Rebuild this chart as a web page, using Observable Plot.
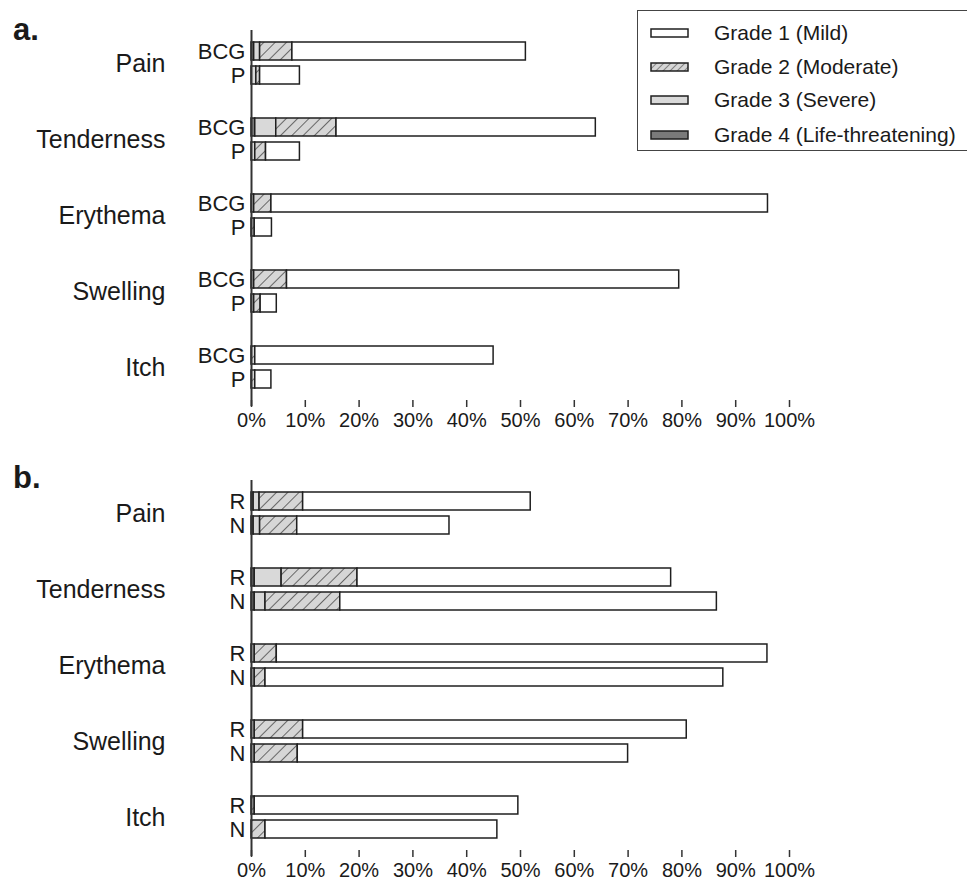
<!DOCTYPE html>
<html><head><meta charset="utf-8">
<script src="https://cdn.jsdelivr.net/npm/d3@7"></script>
<script src="https://cdn.jsdelivr.net/npm/@observablehq/plot@0.6"></script>
<style>
body{margin:0;background:#fff;font-family:"Liberation Sans",Arial,sans-serif;color:#1a1a1a;}
#wrap{position:relative;width:967px;height:888px;overflow:hidden;}
#wrap svg.plot{display:block;}
.plabel{position:absolute;left:13px;font-weight:bold;font-size:31px;line-height:1;}
#legend{position:absolute;left:637px;top:10px;width:340px;height:141px;border:1.5px solid #444;box-sizing:border-box;background:#fff;}
.lrow{position:absolute;left:12px;height:26px;display:flex;align-items:center;font-size:21px;white-space:nowrap;}
.lrow svg{margin-right:24px;}
</style>
</head><body>
<svg width="0" height="0" style="position:absolute">
  <defs>
    <pattern id="hatch" patternUnits="userSpaceOnUse" width="8" height="8" patternTransform="rotate(45)">
      <rect width="8" height="8" fill="#d6d6d6"></rect>
      <line x1="0" y1="0" x2="0" y2="8" stroke="#4a4a4a" stroke-width="1.6"></line>
    </pattern>
    <pattern id="hatchS" patternUnits="userSpaceOnUse" width="5" height="5" patternTransform="rotate(45)">
      <rect width="5" height="5" fill="#d6d6d6"></rect>
      <line x1="0" y1="0" x2="0" y2="5" stroke="#4a4a4a" stroke-width="1.2"></line>
    </pattern>
  </defs>
</svg>
<div id="wrap">
  <div id="pa"></div>
  <div id="pb"></div>
  <div class="plabel" style="top:14px">a.</div>
  <div class="plabel" style="top:462px">b.</div>
  <div id="legend"></div>
</div>
<script>
// ---- data ----
const symptoms = ["Pain", "Tenderness", "Erythema", "Swelling", "Itch"];
const gradeNames = ["Grade 1 (Mild)", "Grade 2 (Moderate)", "Grade 3 (Severe)", "Grade 4 (Life-threatening)"];
const gradeFills = ["#ffffff", "url(#hatch)", "#d9d9d9", "#7a7a7a"];
const legendFills = ["#ffffff", "url(#hatchS)", "#d9d9d9", "#7a7a7a"];
const xTicks = [0, 10, 20, 30, 40, 50, 60, 70, 80, 90, 100];

// Panel a: groups BCG, P ; each entry [BCG, P] per symptom (percent)
const groupsA = ["BCG", "P"];
const a_g4 = [[0.5, 0], [0.7, 0], [0, 0], [0, 0], [0, 0]];
const a_g3 = [[1.1, 0.9], [3.9, 0.7], [0.5, 0], [0.5, 0.5], [0, 0]];
const a_g2 = [[6.0, 0.7], [11.2, 2.0], [3.2, 0.6], [6.1, 1.2], [0.7, 0.7]];
const a_g1 = [[43.4, 7.4], [48.2, 6.3], [92.3, 3.2], [72.9, 3.0], [44.3, 3.0]];

// Panel b: groups R, N
const groupsB = ["R", "N"];
const b_g4 = [[0.4, 0.4], [0.6, 0.6], [0, 0], [0, 0], [0, 0]];
const b_g3 = [[1.1, 1.2], [5.0, 2.0], [0.6, 0.6], [0.6, 0.6], [0, 0]];
const b_g2 = [[8.1, 6.9], [14.1, 13.9], [4.1, 2.0], [9.0, 8.0], [0.6, 2.6]];
const b_g1 = [[42.3, 28.3], [58.3, 70.0], [91.2, 85.1], [71.3, 61.4], [49.0, 43.1]];

function buildRows(groups, g1, g2, g3, g4) {
  const rows = [];
  const byGrade = [[gradeNames[3], g4], [gradeNames[2], g3], [gradeNames[1], g2], [gradeNames[0], g1]];
  symptoms.forEach((s, i) => {
    groups.forEach((g, j) => {
      byGrade.forEach(([name, arr]) => {
        const v = arr[i][j];
        if (v > 0) rows.push({symptom: s, group: g, grade: name, value: v});
      });
    });
  });
  return rows;
}

function panel(rows, groups, marginTop, height, marginBottom) {
  const first = [symptoms[0]], middle = symptoms.slice(1, -1), last = [symptoms[symptoms.length - 1]];
  const axisRule = (data, insetTop, insetBottom) =>
    Plot.ruleX(data, {x: () => 0, fy: d => d, stroke: "#333", strokeWidth: 2, insetTop, insetBottom});
  return Plot.plot({
    width: 967, height, marginTop, marginBottom, marginLeft: 251, marginRight: 178,
    style: {fontFamily: "'Liberation Sans', Arial, sans-serif", color: "#1a1a1a", background: "transparent", overflow: "visible"},
    x: {domain: [0, 100], axis: null},
    y: {domain: groups, paddingInner: 0.25, paddingOuter: 0.5, axis: null},
    fy: {domain: symptoms, paddingInner: 0.1316, paddingOuter: 0, axis: null},
    color: {type: "ordinal", domain: gradeNames, range: gradeFills},
    marks: [
      Plot.barX(rows, {x: "value", y: "group", fy: "symptom", fill: "grade", stroke: "#1f1f1f", strokeWidth: 1.5}),
      axisRule(first, 0, -5),
      axisRule(middle, -5, -5),
      axisRule(last, -5, -6),
      Plot.axisY({anchor: "left", tickSize: 0, tickPadding: 6, fontSize: 22, label: null}),
      Plot.axisFy({anchor: "left", tickSize: 0, tickPadding: 86, fontSize: 25, label: null}),
      Plot.axisX({anchor: "bottom", ticks: xTicks, tickFormat: d => d + "%", tickSize: 7, tickPadding: 5, fontSize: 20, label: null, stroke: "#333", strokeWidth: 1.5})
    ]
  });
}

const rowsA = buildRows(groupsA, a_g1, a_g2, a_g3, a_g4);
const rowsB = buildRows(groupsB, b_g1, b_g2, b_g3, b_g4);
document.getElementById("pa").append(panel(rowsA, groupsA, 30, 440, 40));
document.getElementById("pb").append(panel(rowsB, groupsB, 40, 448, 38));

// legend
const leg = document.getElementById("legend");
const rowTops = [9, 43, 76, 111];
gradeNames.forEach((name, i) => {
  const row = document.createElement("div");
  row.className = "lrow";
  row.style.top = rowTops[i] + "px";
  row.innerHTML = `<svg width="40" height="10"><rect x="1" y="1" width="37" height="8" fill="${legendFills[i]}" stroke="#1f1f1f" stroke-width="1.5"></rect></svg><span>${name}</span>`;
  leg.append(row);
});
</script>
</body></html>
